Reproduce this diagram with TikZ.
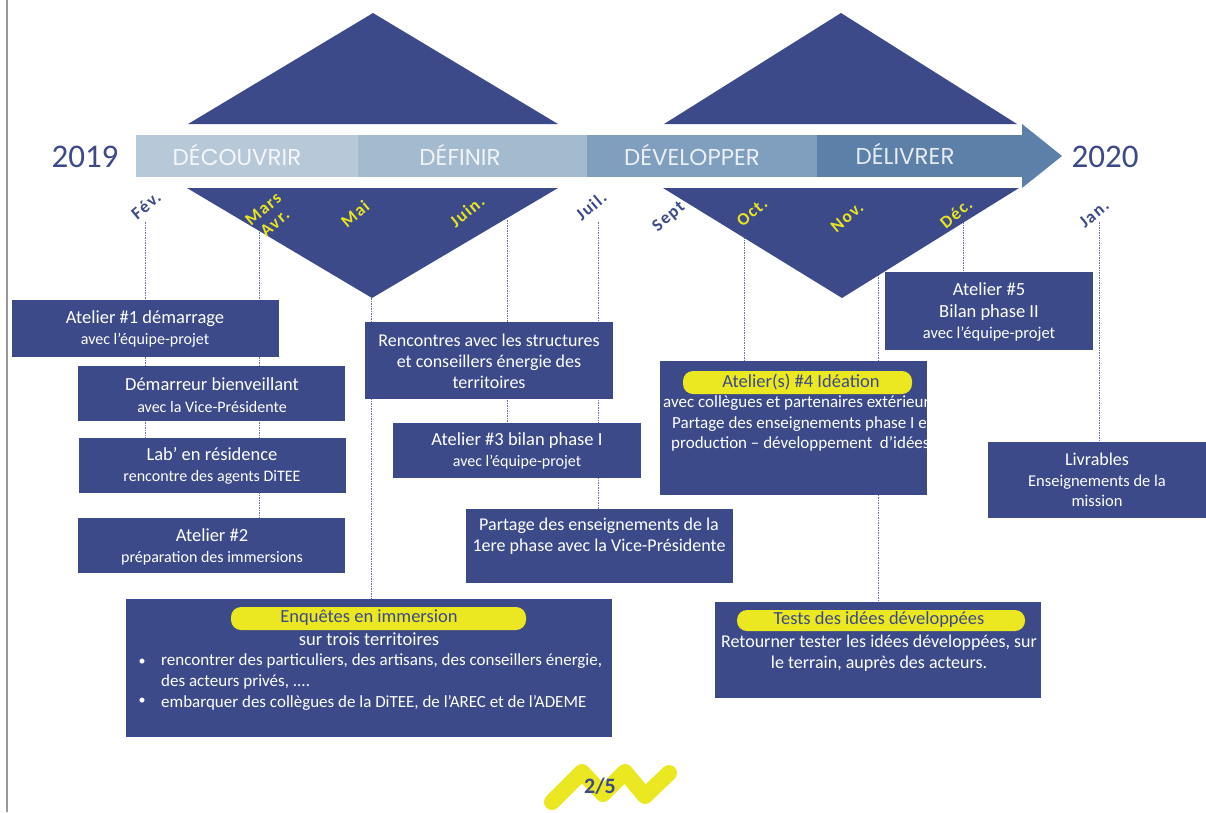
\documentclass[tikz,border=0pt]{standalone}
\usepackage{fontspec}
\setmainfont{Carlito}
\newfontfamily\phasefont{Poppins}
\newfontfamily\monthfont[LetterSpace=8]{Carlito}
\usetikzlibrary{backgrounds}
\definecolor{navy}{RGB}{60,74,137}
\definecolor{hl}{RGB}{235,231,32}
\definecolor{ph1}{RGB}{183,201,217}
\definecolor{ph2}{RGB}{164,186,207}
\definecolor{ph3}{RGB}{128,159,190}
\definecolor{ph4}{RGB}{92,128,168}
\definecolor{guide}{RGB}{105,116,168}
\definecolor{myel}{RGB}{232,228,30}
\begin{document}
\begin{tikzpicture}[x=1pt,y=-1pt,
  box/.style={fill=navy, draw=none, inner sep=0pt, anchor=north west},
  txt/.style={text=white, align=center, font=\fontsize{18.5}{21.5}\selectfont, inner sep=0pt},
  txtl/.style={text=white, align=left, font=\fontsize{17}{21}\selectfont, inner sep=0pt},
  guideline/.style={guide, line width=0.7pt, dash pattern=on 1.5pt off 1pt},
  pill/.style={fill=hl, draw=none, rounded corners=10pt},
  pilltxt/.style={text=navy, font=\fontsize{18.5}{20}\selectfont, inner sep=0pt},
  month/.style={font=\monthfont\bfseries\fontsize{17.5}{18}\selectfont, rotate=40, inner sep=0pt, align=center},
  phase/.style={font=\phasefont\fontsize{23}{25}\selectfont, text=white, text opacity=0.85, inner sep=0pt},
  year/.style={font=\fontsize{33}{36}\selectfont, text=navy, inner sep=0pt},
  tri/.style={fill=navy, draw=none}]

\useasboundingbox (0,0) rectangle (1206,812);

% ---------- boxes ----------
\node[box, minimum width=267pt, minimum height=57pt] (a1) at (12,300) {};
\node[box, minimum width=267pt, minimum height=55pt] (dem) at (78,366) {};
\node[box, minimum width=267pt, minimum height=55pt] (lab) at (79,438) {};
\node[box, minimum width=267pt, minimum height=55pt] (a2) at (78,518) {};
\node[box, minimum width=248pt, minimum height=77pt] (ren) at (365,322) {};
\node[box, minimum width=248pt, minimum height=55pt] (a3) at (393,423) {};
\node[box, minimum width=267pt, minimum height=74pt] (par) at (466,509) {};
\node[box, minimum width=267pt, minimum height=134pt] (a4) at (660,361) {};
\node[box, minimum width=208pt, minimum height=78pt] (a5) at (885,272) {};
\node[box, minimum width=218pt, minimum height=76pt] (liv) at (988,442) {};
\node[box, minimum width=486pt, minimum height=138pt] (enq) at (126,599) {};
\node[box, minimum width=326pt, minimum height=96pt] (tst) at (715,602) {};

% ---------- guide lines (behind) ----------
\coordinate (gfev) at (145,222);
\coordinate (gmars) at (259,222);
\coordinate (gmai) at (371,298);
\coordinate (gjuin) at (507,220);
\coordinate (gjuil) at (598,222);
\coordinate (goct) at (744,222);
\coordinate (gnov) at (878,222);
\coordinate (gdec) at (963,222);
\coordinate (gjan) at (1099,222);
\begin{scope}[on background layer]
  \fill[white] (0,0) rectangle (1206,812);
  \draw[guideline] (gfev) -- (gfev |- lab.north);
  \draw[guideline] (gmars) -- (gmars |- a2.north);
  \draw[guideline] (gmai) -- (gmai |- enq.north);
  \draw[guideline] (gjuin) -- (gjuin |- a3.north);
  \draw[guideline] (gjuil) -- (gjuil |- par.north);
  \draw[guideline] (goct) -- (goct |- a4.north);
  \draw[guideline] (gnov) -- (gnov |- tst.north);
  \draw[guideline] (gdec) -- (gdec |- a5.north);
  \draw[guideline] (gjan) -- (gjan |- liv.north);
\end{scope}

% left border
\draw[gray!80, line width=1.6pt] (7,0) -- (7,812);

% ---------- triangles ----------
\fill[tri] (188,124) -- (373,13) -- (558,124) -- cycle;
\fill[tri] (664,124) -- (841,13) -- (1017,124) -- cycle;
\fill[tri] (187,188) -- (558,188) -- (372,298) -- cycle;
\fill[tri] (663,188) -- (1019,188) -- (842,298) -- cycle;

% ---------- arrow band ----------
\fill[ph1] (136,135) rectangle (358,177);
\fill[ph2] (358,135) rectangle (587,177);
\fill[ph3] (587,135) rectangle (817,177);
\fill[ph4] (817,135) rectangle (1023,177);
\fill[ph4] (1022,124) -- (1062,156) -- (1022,188) -- cycle;
\node[phase] (p1) at (237,155) {DÉCOUVRIR};
\node[phase] (p2) at (460,155) {DÉFINIR};
\node[phase] (p3) at (692,155) {DÉVELOPPER};
\node[phase] (p4) at (905,154) {DÉLIVRER};
\node[year] (y19) at (85,157) {2019};
\node[year] (y20) at (1105,157) {2020};

% ---------- months ----------
\node[month, text=navy] (mfev) at (146,205) {Fév.};
\node[month, text=myel] (mmars) at (269,216) {Mars\\Avr.};
\node[month, text=myel] (mmai) at (355,214) {Mai};
\node[month, text=myel] (mjuin) at (467,211) {Juin.};
\node[month, text=navy] (mjuil) at (591,206) {Juil.};
\node[month, text=navy] (msept) at (669,217) {Sept};
\node[month, text=myel] (moct) at (752,212) {Oct.};
\node[month, text=myel] (mnov) at (847,217) {Nov.};
\node[month, text=myel] (mdec) at (956,213) {Déc.};
\node[month, text=navy] (mjan) at (1094,214) {Jan.};

% ---------- box texts ----------
\node[txt] (a1t) at (145,329) {Atelier \#1 démarrage\\{\fontsize{16}{21.5}\selectfont avec l’équipe-projet}};
\node[txt] (demt) at (212,395) {Démarreur bienveillant\\{\fontsize{16}{21.5}\selectfont avec la Vice-Présidente}};
\node[txt] (labt) at (212,466) {Lab’ en résidence\\{\fontsize{16}{21.5}\selectfont rencontre des agents DiTEE}};
\node[txt] (a2t) at (212,547) {Atelier \#2\\{\fontsize{16}{21.5}\selectfont préparation des immersions}};
\node[txt, font=\fontsize{18}{21}\selectfont] (rent) at (489,361) {Rencontres avec les structures\\et conseillers énergie des\\territoires};
\node[txt] (a3t) at (517,451) {Atelier \#3 bilan phase I\\{\fontsize{16}{21.5}\selectfont avec l’équipe-projet}};
\node[txt, font=\fontsize{18}{20.5}\selectfont] (part) at (599,536) {Partage des enseignements de la\\1ere phase avec la Vice-Présidente};
\node[txt, font=\fontsize{18.5}{21.5}\selectfont] (a5t) at (989,312) {Atelier \#5\\Bilan phase II\\{\fontsize{16.5}{21.5}\selectfont avec l’équipe-projet}};
\node[txt, font=\fontsize{18}{20.5}\selectfont] (livt) at (1097,480) {Livrables\\{\fontsize{16.5}{20.5}\selectfont Enseignements de la}\\{\fontsize{16.5}{20.5}\selectfont mission}};

% Atelier 4 (clipped text)
\begin{scope}
  \clip (a4.north west) rectangle (a4.south east);
  \fill[pill] (683,371) rectangle (912,394);
  \node[pilltxt] (a4p) at (801,382) {Atelier(s) \#4 Idéation};
  \node[txtl, anchor=west] (a4l1) at (663,403) {avec collègues et partenaires extérieurs};
  \node[txtl, anchor=west] (a4l2) at (672,424) {Partage des enseignements phase I et};
  \node[txtl, anchor=west] (a4l3) at (671,444) {production – développement~ d’idées};
\end{scope}

% Enquêtes
\fill[pill] (231,607) rectangle (526,630);
\node[pilltxt] (enqp) at (369,618) {Enquêtes en immersion};
\node[txt] (enqs) at (369,639) {sur trois territoires};
\node[txtl, font=\fontsize{14}{21}\selectfont] (b1) at (142,662) {•};
\node[txtl, font=\fontsize{14}{21}\selectfont] (b2) at (142,701) {•};
\node[txtl, anchor=west] (enql) at (161,682) {rencontrer des particuliers, des artisans, des conseillers énergie,\\des acteurs privés, ....\\embarquer des collègues de la DiTEE, de l’AREC et de l’ADEME};

% Tests
\fill[pill] (737,610) rectangle (1025,631);
\node[pilltxt] (tstp) at (879,620) {Tests des idées développées};
\node[txt, font=\fontsize{18}{20.5}\selectfont] (tstt) at (879,653) {Retourner tester les idées développées, sur\\le terrain, auprès des acteurs.};

% ---------- page marker ----------
\draw[hl, line width=16pt, line cap=round, line join=round]
  (552,802) -- (582,772) -- (603,794) -- (625,772) -- (645,796) -- (669,773);
\node[text=navy, font=\bfseries\fontsize{22}{23}\selectfont, inner sep=0pt] (pg) at (600,786) {2/5};
\end{tikzpicture}
\end{document}
